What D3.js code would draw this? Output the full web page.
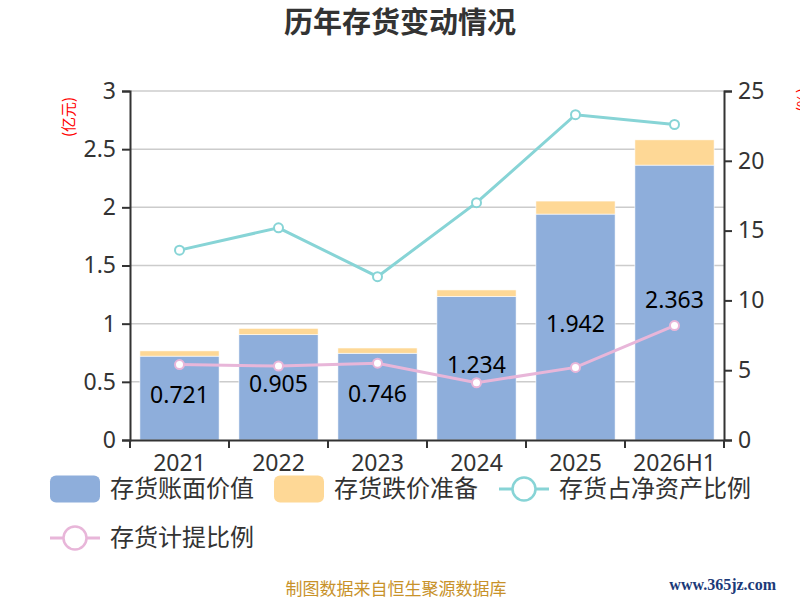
<!DOCTYPE html>
<html>
<head>
<meta charset="utf-8">
<script src="https://cdn.jsdelivr.net/npm/d3@7"></script>
<style>
  body { margin: 0; background: #fff; }
  svg { font-family: "Noto Sans CJK SC", "Noto Sans", sans-serif; }
</style>
</head>
<body>
<svg id="chart"></svg>
<script>
// Chart data
const categories = ["2021", "2022", "2023", "2024", "2025", "2026H1"];
const bookValue = [0.721, 0.905, 0.746, 1.234, 1.942, 2.363];      // 存货账面价值 (亿元)
const impairment = [0.045, 0.055, 0.045, 0.056, 0.112, 0.217];     // 存货跌价准备 (亿元)
const ratioNetAssets = [13.6, 15.2, 11.7, 17.0, 23.3, 22.6];        // 存货占净资产比例 (%)
const provisionRatio = [5.4, 5.3, 5.5, 4.1, 5.2, 8.2];              // 存货计提比例 (%)
const leftTicks = [0, 0.5, 1, 1.5, 2, 2.5, 3];
const rightTicks = [0, 5, 10, 15, 20, 25];

const width = 800, height = 600;
const plot = { left: 130, right: 724, top: 91, bottom: 440 };

const colors = {
  book: "#8eaedb",
  imp: "#fed896",
  ratio: "#87d4d6",
  prov: "#e8b6d9"
};

const svg = d3.select("#chart").attr("width", width).attr("height", height);

// Scales
const x = d3.scaleBand().domain(categories).range([plot.left, plot.right])
  .paddingInner(0.2).paddingOuter(0.1);
const yL = d3.scaleLinear().domain([0, 3]).range([plot.bottom, plot.top]);
const yR = d3.scaleLinear().domain([0, 25]).range([plot.bottom, plot.top]);
const cx = c => x(c) + x.bandwidth() / 2;

// Title
svg.append("text")
  .attr("x", width / 2).attr("y", 33)
  .attr("text-anchor", "middle")
  .attr("font-size", 29).attr("font-weight", "bold")
  .attr("fill", "#333")
  .text("历年存货变动情况");

// Grid lines
svg.append("g")
  .selectAll("line")
  .data(leftTicks.slice(1))
  .enter().append("line")
  .attr("x1", plot.left).attr("x2", plot.right)
  .attr("y1", d => yL(d)).attr("y2", d => yL(d))
  .attr("stroke", "#ccc").attr("stroke-width", 1.5);

// Stacked bars
const barG = svg.append("g");
categories.forEach((c, i) => {
  barG.append("rect")
    .attr("x", x(c)).attr("width", x.bandwidth())
    .attr("y", yL(bookValue[i]))
    .attr("height", yL(0) - yL(bookValue[i]))
    .attr("fill", colors.book)
    .attr("stroke", "#fff").attr("stroke-width", 0.6);
  barG.append("rect")
    .attr("x", x(c)).attr("width", x.bandwidth())
    .attr("y", yL(bookValue[i] + impairment[i]))
    .attr("height", yL(bookValue[i]) - yL(bookValue[i] + impairment[i]))
    .attr("fill", colors.imp)
    .attr("stroke", "#fff").attr("stroke-width", 0.6);
});

// Axes
function styleAxis(g) {
  g.selectAll("path").attr("stroke", "#333").attr("stroke-width", 2);
  g.selectAll("line").attr("stroke", "#333").attr("stroke-width", 2);
  g.selectAll("text").attr("fill", "#333").attr("font-size", 23)
    .attr("font-family", "'Noto Sans', 'Noto Sans CJK SC', sans-serif");
}

svg.append("g")
  .attr("transform", `translate(${plot.left},0)`)
  .call(d3.axisLeft(yL).tickValues(leftTicks).tickFormat(d3.format("~g")).tickSizeOuter(0).tickSize(8).tickPadding(6))
  .call(styleAxis);

svg.append("g")
  .attr("transform", `translate(${plot.right},0)`)
  .call(d3.axisRight(yR).tickValues(rightTicks).tickSizeOuter(0).tickSize(8).tickPadding(6))
  .call(styleAxis);

const xAxis = svg.append("g")
  .attr("transform", `translate(0,${plot.bottom})`)
  .call(d3.axisBottom(x).tickSize(0).tickPadding(15).tickSizeOuter(0))
  .call(styleAxis);
xAxis.selectAll(".tick text").attr("dy", "0.71em");
// ticks between categories
xAxis.selectAll(".boundary")
  .data(d3.range(categories.length + 1))
  .enter().append("line")
  .attr("x1", i => plot.left + i * x.step()).attr("x2", i => plot.left + i * x.step())
  .attr("y1", 0).attr("y2", 8)
  .attr("stroke", "#333").attr("stroke-width", 2);

// Axis names
svg.append("text")
  .attr("transform", "translate(74,117) rotate(-90)")
  .attr("text-anchor", "middle")
  .attr("font-size", 15).attr("fill", "red")
  .text("(亿元)");
svg.append("text")
  .attr("transform", "translate(808,100) rotate(-90)")
  .attr("text-anchor", "middle")
  .attr("font-size", 15).attr("fill", "red")
  .text("(%)");

// Lines
const line = d3.line()
  .x((d, i) => cx(categories[i]))
  .y(d => yR(d));

function drawSeries(data, color) {
  svg.append("path")
    .datum(data)
    .attr("d", line)
    .attr("fill", "none")
    .attr("stroke", color).attr("stroke-width", 3);
  svg.append("g").selectAll("circle")
    .data(data)
    .enter().append("circle")
    .attr("cx", (d, i) => cx(categories[i]))
    .attr("cy", d => yR(d))
    .attr("r", 4.5)
    .attr("fill", "#fff")
    .attr("stroke", color).attr("stroke-width", 2);
}
drawSeries(ratioNetAssets, colors.ratio);
drawSeries(provisionRatio, colors.prov);

// Value labels inside book value bars
svg.append("g").selectAll("text")
  .data(bookValue)
  .enter().append("text")
  .attr("x", (d, i) => cx(categories[i]))
  .attr("y", d => (yL(d) + yL(0)) / 2 - 3)
  .attr("dy", "0.35em")
  .attr("text-anchor", "middle")
  .attr("font-size", 23)
  .attr("font-family", "'Noto Sans', sans-serif")
  .attr("fill", "#000")
  .text(d => d3.format(".3f")(d));

// Legend
const legendItems = [
  { label: "存货账面价值", color: colors.book, type: "rect", x: 50, y: 489 },
  { label: "存货跌价准备", color: colors.imp, type: "rect", x: 274, y: 489 },
  { label: "存货占净资产比例", color: colors.ratio, type: "line", x: 499, y: 489 },
  { label: "存货计提比例", color: colors.prov, type: "line", x: 50, y: 538 }
];
const legend = svg.append("g");
legendItems.forEach(d => {
  const g = legend.append("g").attr("transform", `translate(${d.x},${d.y})`);
  if (d.type === "rect") {
    g.append("rect")
      .attr("x", 0).attr("y", -13.5)
      .attr("width", 50).attr("height", 27)
      .attr("rx", 6)
      .attr("fill", d.color);
  } else {
    g.append("line")
      .attr("x1", 0).attr("x2", 50)
      .attr("stroke", d.color).attr("stroke-width", 3);
    g.append("circle")
      .attr("cx", 25).attr("r", 11.5)
      .attr("fill", "#fff")
      .attr("stroke", d.color).attr("stroke-width", 2.5);
  }
  g.append("text")
    .attr("x", 60).attr("dy", "0.35em")
    .attr("font-size", 24).attr("fill", "#333")
    .text(d.label);
});

// Source note
svg.append("text")
  .attr("x", 396).attr("y", 595)
  .attr("text-anchor", "middle")
  .attr("font-size", 17).attr("fill", "#c8922a")
  .text("制图数据来自恒生聚源数据库");

// Watermark
svg.append("text")
  .attr("x", 776).attr("y", 590)
  .attr("text-anchor", "end")
  .attr("font-size", 16).attr("font-weight", "bold")
  .attr("font-family", "'Liberation Serif', 'DejaVu Serif', serif")
  .attr("fill", "#1b3a78")
  .text("www.365jz.com");
</script>
</body>
</html>
